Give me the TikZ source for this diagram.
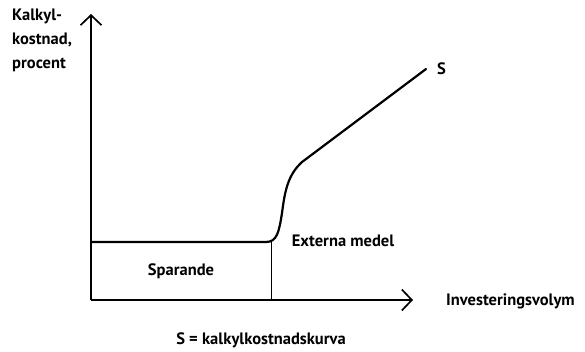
\documentclass[tikz,border=0pt]{standalone}
\usepackage{fontspec}
\setmainfont{PT Sans}
\usetikzlibrary{arrows.meta}
\begin{document}
\begin{tikzpicture}[x=1pt,y=-1pt,
  axis/.style={line width=1.2pt,-{Straight Barb[length=10pt,width=21pt,line width=1.7pt]}},
  thin line/.style={line width=0.9pt},
  curve/.style={line width=2.2pt,line cap=round},
  lbl/.style={font=\fontsize{16.5}{24}\selectfont\bfseries,inner sep=0pt}]
\useasboundingbox (0,0) rectangle (585,351);
\coordinate (O) at (91,300);
\coordinate (ytop) at (91,14);
\coordinate (xend) at (413,300);
\coordinate (c0) at (91,242);
\coordinate (c1) at (266,242);
\coordinate (k) at (302,162);
\coordinate (cend) at (426,69);
\coordinate (vb) at (271,300);
\coordinate (vt) at (271,242);
\draw[axis] (O) -- (ytop);
\draw[axis] (O) -- (xend);
\draw[thin line] (vb) -- (vt);
\draw[curve] (c0) -- (c1) .. controls (277,242) and (279,232) .. (282,213)
  .. controls (285,190) and (288,175) .. (k) -- (cend);
\node[lbl,anchor=north west,align=left] (ylab) at (12,9) {Kalkyl-\\kostnad,\\procent};
\node[lbl,anchor=west] (S) at (437,69) {S};
\node[lbl] (ext) at (343,241) {Externa medel};
\node[lbl] (spar) at (181,271) {Sparande};
\node[lbl,anchor=west] (xlab) at (446,301) {Investeringsvolym};
\node[lbl] (cap) at (261,340) {S = kalkylkostnadskurva};
\end{tikzpicture}
\end{document}
